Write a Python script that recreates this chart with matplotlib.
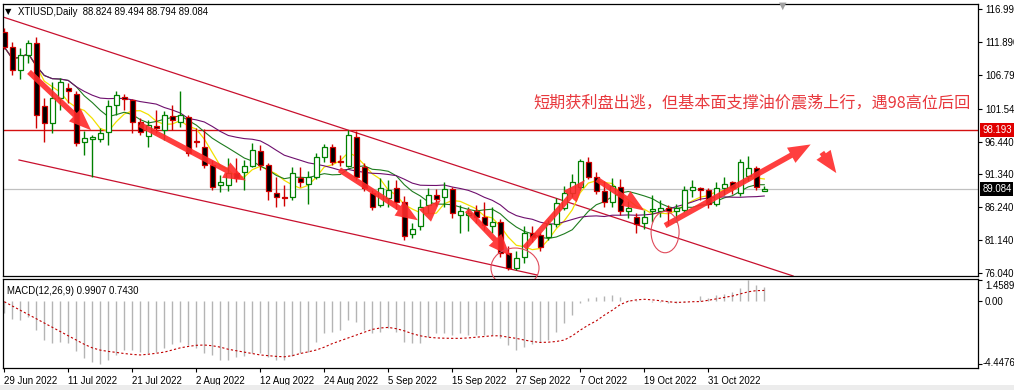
import numpy as np
import pandas as pd
import matplotlib
matplotlib.use("Agg")
import matplotlib.pyplot as plt
from matplotlib.patches import Ellipse, FancyArrowPatch, Rectangle
from matplotlib.transforms import ScaledTranslation

plt.rcParams['font.family'] = ['Liberation Sans', 'DejaVu Sans']

# daily candles XTIUSD, 29 Jun 2022 .. 9 Nov 2022
opens = [113.5, 111.1, 107.6, 109.86, 111.67, 101.95, 99.3, 103.2, 104.8, 103.8,
         96.3, 96.8, 96.8, 97.97, 102.1, 103.4, 102.9, 99.5, 97.3, 98.85,
         98.2, 100.4, 99.5, 100.3, 96.5, 95.6, 92.8, 89.7, 89.7, 91.5,
         91.7, 92.65, 94.9, 92.8, 88.5, 87.8, 87.8, 90.85, 89.9, 90.9,
         94.0, 95.6, 93.4, 92.6, 97.2, 92.5, 88.5, 86.6, 87.7, 89.2,
         87.1, 82.1, 83.4, 86.6, 88.1, 87.9, 89.1, 85.0, 85.0, 85.6,
         84.7, 83.4, 84.0, 79.2, 76.8, 78.6, 82.3, 82.0, 81.7, 83.7,
         86.2, 88.4, 89.4, 93.3, 91.0, 88.7, 87.1, 89.4, 85.6, 84.8,
         83.8, 85.6, 85.7, 86.2, 85.6, 85.8, 88.9, 89.3, 88.9, 86.8,
         89.2, 90.1, 88.4, 91.1, 92.3, 88.824]
highs = [114.0, 111.9, 110.9, 112.2, 112.7, 103.2, 105.7, 106.3, 105.5, 104.2,
         98.0, 97.4, 98.5, 102.9, 104.2, 103.8, 103.0, 100.1, 99.8, 101.4,
         101.1, 102.1, 104.2, 100.6, 98.5, 98.4, 93.6, 91.3, 93.9, 93.9,
         93.6, 96.2, 95.9, 93.1, 91.0, 89.7, 92.5, 92.5, 91.8, 94.7,
         96.0, 96.0, 94.4, 98.3, 98.0, 93.1, 88.9, 90.8, 90.5, 90.5,
         88.0, 83.8, 87.5, 89.2, 89.1, 90.2, 89.4, 86.6, 86.3, 86.6,
         87.1, 86.3, 84.5, 80.2, 79.4, 83.3, 83.4, 82.4, 84.3, 87.7,
         89.5, 91.4, 93.8, 94.0, 91.7, 90.3, 90.8, 90.6, 87.2, 85.3,
         85.9, 88.2, 87.4, 86.6, 86.7, 89.5, 90.5, 89.4, 89.3, 90.1,
         91.0, 90.3, 93.7, 94.2, 92.7, 89.494]
lows = [110.8, 106.76, 106.1, 108.6, 98.5, 96.4, 97.8, 101.3, 102.4, 95.8,
        94.4, 91.0, 96.3, 95.9, 100.6, 101.3, 97.8, 97.5, 95.6, 97.8,
        96.7, 98.2, 98.7, 94.2, 95.6, 92.3, 88.9, 88.6, 88.8, 90.2,
        88.9, 92.5, 92.0, 87.4, 86.3, 86.4, 87.4, 89.4, 86.8, 90.7,
        93.2, 92.8, 92.6, 92.5, 90.5, 88.7, 85.9, 86.3, 86.3, 86.0,
        81.1, 81.5, 82.7, 85.3, 86.5, 86.3, 84.6, 82.3, 82.5, 83.8,
        82.7, 82.3, 78.6, 76.6, 76.5, 77.6, 80.9, 79.4, 81.2, 83.2,
        85.8, 87.9, 89.0, 90.7, 88.3, 86.3, 86.3, 85.0, 84.6, 82.2,
        82.9, 83.9, 84.7, 83.5, 83.9, 85.5, 87.9, 87.4, 86.1, 86.4,
        88.1, 88.3, 88.0, 90.3, 88.9, 88.794]
closes = [111.1, 107.53, 109.86, 111.77, 100.55, 99.3, 103.2, 105.7, 104.2, 96.2,
          97.0, 97.1, 97.8, 101.95, 103.7, 103.0, 99.5, 97.97, 99.0, 98.5,
          100.55, 99.8, 100.55, 94.7, 96.3, 92.8, 89.4, 90.2, 91.6, 90.8,
          92.7, 95.1, 92.8, 88.7, 87.8, 87.7, 91.6, 90.2, 91.0, 94.1,
          95.6, 93.3, 93.3, 97.4, 91.0, 89.2, 86.3, 89.2, 88.9, 87.1,
          81.8, 82.9, 86.3, 88.1, 87.6, 89.1, 85.4, 85.6, 85.3, 84.7,
          83.5, 83.9, 79.2, 76.8, 78.4, 82.3, 81.7, 80.1, 83.6, 86.9,
          88.5, 90.2, 93.4, 91.0, 88.7, 87.1, 89.5, 85.6, 86.1, 83.7,
          84.8, 86.0, 86.1, 85.6, 86.1, 89.0, 89.4, 89.0, 86.8, 89.2,
          89.9, 89.2, 93.2, 92.3, 89.4, 89.084]

# MACD(12,26,9): main (histogram) and signal (dotted)
macd_main = [-0.87, -1.29, -1.34, -1.11, -2.05, -2.75, -2.94, -2.87, -2.99, -3.51,
             -4.04, -4.28, -4.4476, -4.12, -3.81, -3.46, -3.46, -3.58, -3.69, -3.58,
             -3.34, -3.03, -2.87, -3.10, -3.34, -3.65, -3.81, -4.12, -4.12, -3.97,
             -3.88, -3.69, -3.69, -3.97, -4.12, -4.12, -3.88, -3.69, -3.58, -2.87,
             -2.28, -2.16, -2.05, -1.34, -1.46, -2.05, -2.28, -2.16, -1.93, -2.16,
             -2.87, -2.99, -2.99, -2.52, -2.28, -2.28, -2.40, -2.28, -2.40, -2.40,
             -2.40, -2.40, -2.63, -3.10, -3.46, -3.27, -3.03, -2.87, -2.75, -2.16,
             -1.53, -0.99, -0.17, 0.19, 0.30, 0.35, 0.42, 0.30, 0.05, 0.05,
             0.00, -0.07, -0.07, -0.14, -0.14, -0.05, 0.02, 0.35, 0.20, 0.42,
             0.50, 0.60, 0.90, 1.4589, 1.15, 0.9907]
macd_signal = [-0.05, -0.35, -0.65, -0.95, -1.25, -1.55, -1.85, -2.15, -2.45, -2.75,
               -3.05, -3.30, -3.46, -3.55, -3.62, -3.70, -3.76, -3.80, -3.75, -3.68,
               -3.60, -3.45, -3.30, -3.20, -3.12, -3.10, -3.15, -3.25, -3.40, -3.50,
               -3.60, -3.70, -3.80, -3.85, -3.90, -3.93, -3.85, -3.70, -3.58, -3.45,
               -3.25, -3.00, -2.80, -2.60, -2.40, -2.20, -2.00, -1.90, -1.86, -1.95,
               -2.10, -2.30, -2.45, -2.55, -2.60, -2.62, -2.63, -2.63, -2.60, -2.55,
               -2.50, -2.45, -2.45, -2.55, -2.63, -2.75, -2.85, -2.92, -2.90, -2.85,
               -2.75, -2.45, -2.05, -1.70, -1.40, -1.00, -0.65, -0.25, -0.02, 0.08,
               0.12, 0.08, 0.02, -0.05, -0.10, -0.08, -0.05, -0.04, 0.05, 0.15,
               0.25, 0.35, 0.50, 0.65, 0.73, 0.743]

date_labels = ['29 Jun 2022', '11 Jul 2022', '21 Jul 2022', '2 Aug 2022', '12 Aug 2022',
               '24 Aug 2022', '5 Sep 2022', '15 Sep 2022', '27 Sep 2022', '7 Oct 2022',
               '19 Oct 2022', '31 Oct 2022']
price_ticks = [116.99, 111.89, 106.79, 101.54, 96.44, 91.34, 86.24, 81.14, 76.04]
macd_ticks = [1.4589, 0.0, -4.4476]
resistance = 98.193
last_price = 89.084

# annotations (bar index, price)
upper_channel = [(-0.16, 115.75), (98.6, 75.6)]
lower_channel = [(1.84, 93.58), (66.6, 75.75)]
arrows = [((2.84, 107.53), (11.1, 97.9)),
          ((16.6, 99.3), (30.5, 90.2)),
          ((41.6, 92.3), (52.0, 84.0)),
          ((52.6, 85.0), (54.8, 87.7)),
          ((57.6, 86.1), (63.5, 78.4)),
          ((64.8, 79.6), (72.8, 90.8)),
          ((73.8, 90.8), (80.3, 85.5)),
          ((82.3, 83.2), (101.1, 96.2)),
          ((102.0, 95.1), (104.2, 91.2))]
circles = [((63.84, 76.83), 6.0, 6.2), ((82.6, 82.4), 3.5, 6.4)]
note = '短期获利盘出逃，但基本面支撑油价震荡上行，遇98高位后回'

W, H = 1014, 390


def rect(l, t, r, b):
    return [l / W, 1 - b / H, (r - l) / W, (b - t) / H]


fig = plt.figure(figsize=(W / 100, H / 100), dpi=100)
fig.patch.set_facecolor('white')
ax = fig.add_axes(rect(3, 4, 978, 276))
axm = fig.add_axes(rect(3, 279, 978, 368))

n = len(closes)
x = np.arange(n)
o = np.array(opens); c = np.array(closes)
hi = np.array(highs); lo = np.array(lows)
bull = c > o
green = '#008000'
red = '#d00000'
fs = 6.9

xmin = -0.16
xmax = xmin + 975 / 8
for a in (ax, axm):
    a.set_xlim(xmin, xmax)
    for s in a.spines.values():
        s.set_linewidth(0.9)
        s.set_color('black')

ax.set_ylim(116.99 - (276 - 9) / 6.45, 116.99 + 5 / 6.45)

# moving averages
cs = pd.Series(closes)
ax.plot(x, cs.rolling(5, min_periods=1).mean(), color='#f2e000', lw=0.9, zorder=2)
ax.plot(x, cs.rolling(10, min_periods=1).mean(), color='#1e7b1e', lw=0.8, zorder=2)
ax.plot(x, cs.rolling(20, min_periods=1).mean(), color='#6e0f6e', lw=0.8, zorder=2)

# reference lines
ax.axhline(last_price, color='#c0c0c0', lw=0.9, zorder=1)
ax.axhline(resistance, color='#d41010', lw=1.0, zorder=1)
for line in (upper_channel, lower_channel):
    ax.plot([line[0][0], line[1][0]], [line[0][1], line[1][1]], color='#c8102e', lw=0.9, zorder=1)

# candles
wick_col = [green if b else red for b in bull]
ax.vlines(x, lo, hi, colors=wick_col, lw=1.0, zorder=3)
body_h = np.maximum(np.abs(c - o), 0.06)
ax.bar(x, body_h, bottom=np.minimum(o, c), width=0.62,
       color=['white' if b else 'black' for b in bull],
       edgecolor=wick_col, linewidth=0.9, zorder=4)

# arrows and circles
for (x0, y0), (x1, y1) in arrows:
    ar = FancyArrowPatch((x0, y0), (x1, y1),
                         arrowstyle='simple,head_length=1.6,head_width=1.25,tail_width=0.4',
                         mutation_scale=10, color='#ff2a2a', alpha=0.9, lw=0, zorder=6)
    ax.add_patch(ar)
for (cx, cy), w, h in circles:
    ax.add_patch(Ellipse((cx, cy), w, h, fill=False, ec='#e04a5a', lw=0.8,
                         zorder=6, clip_on=False))

ax.text(66.1, 102.42, note, color='#e8383d', fontsize=11.6, va='center', ha='left',
        family=['Noto Sans CJK SC', 'DejaVu Sans'], zorder=7)

# price axis
ax.yaxis.tick_right()
ax.set_yticks(price_ticks)
ax.set_yticklabels(['%.3f' % v for v in price_ticks])
ax.tick_params(axis='y', length=3, width=0.8, pad=2, labelsize=fs)
ax.set_xticks([])
for val, bg in ((resistance, '#e00000'), (last_price, 'black')):
    ax.annotate('%.3f' % val, xy=(1, val), xycoords=('axes fraction', 'data'),
                xytext=(3, 0), textcoords='offset points', va='center', ha='left',
                fontsize=fs, color='white',
                bbox=dict(boxstyle='square,pad=0.2', fc=bg, ec='none'), zorder=10,
                annotation_clip=False)

# MACD pane
axm.set_ylim(-(368 - 301) / 14.2, (301 - 279) / 14.2)
axm.vlines(x, 0, macd_main, colors='#b4b4b4', lw=1.0)
axm.plot(x, macd_signal, color='#c00000', lw=0.8, ls=(0, (2, 2)))
axm.yaxis.tick_right()
axm.set_yticks(macd_ticks)
axm.set_yticklabels(['1.4589', '0.00', '-4.4476'])
axm.tick_params(axis='y', length=3, width=0.8, pad=2, labelsize=fs)
ylabs = axm.get_yticklabels()
ylabs[0].set_transform(ylabs[0].get_transform() + ScaledTranslation(0, -4.5 / 100, fig.dpi_scale_trans))
ylabs[2].set_transform(ylabs[2].get_transform() + ScaledTranslation(-2 / 100, 2 / 100, fig.dpi_scale_trans))
axm.set_xticks(np.arange(len(date_labels)) * 8)
axm.set_xticklabels(date_labels, ha='left')
axm.tick_params(axis='x', length=3, width=0.8, pad=3, labelsize=fs)
axm.text(0.004, 0.92, 'MACD(12,26,9) 0.9907 0.7430', transform=axm.transAxes,
         fontsize=fs, va='top', ha='left')

# header
fig.text(5 / W, 1 - 12 / H, '▼', fontsize=6, va='center', ha='left', family='DejaVu Sans')
fig.text(18 / W, 1 - 12 / H, 'XTIUSD,Daily  88.824 89.494 88.794 89.084',
         fontsize=fs, va='center', ha='left')
fig.text(783 / W, 1 - 6 / H, '▼', fontsize=7, color='#a0a0a0', va='center', ha='center',
         family='DejaVu Sans')
fig.patches.append(Rectangle((0, 0), 1, 5 / H, transform=fig.transFigure,
                             fc='#ececec', ec='none', zorder=0))

fig.savefig('out.png', dpi=100)
